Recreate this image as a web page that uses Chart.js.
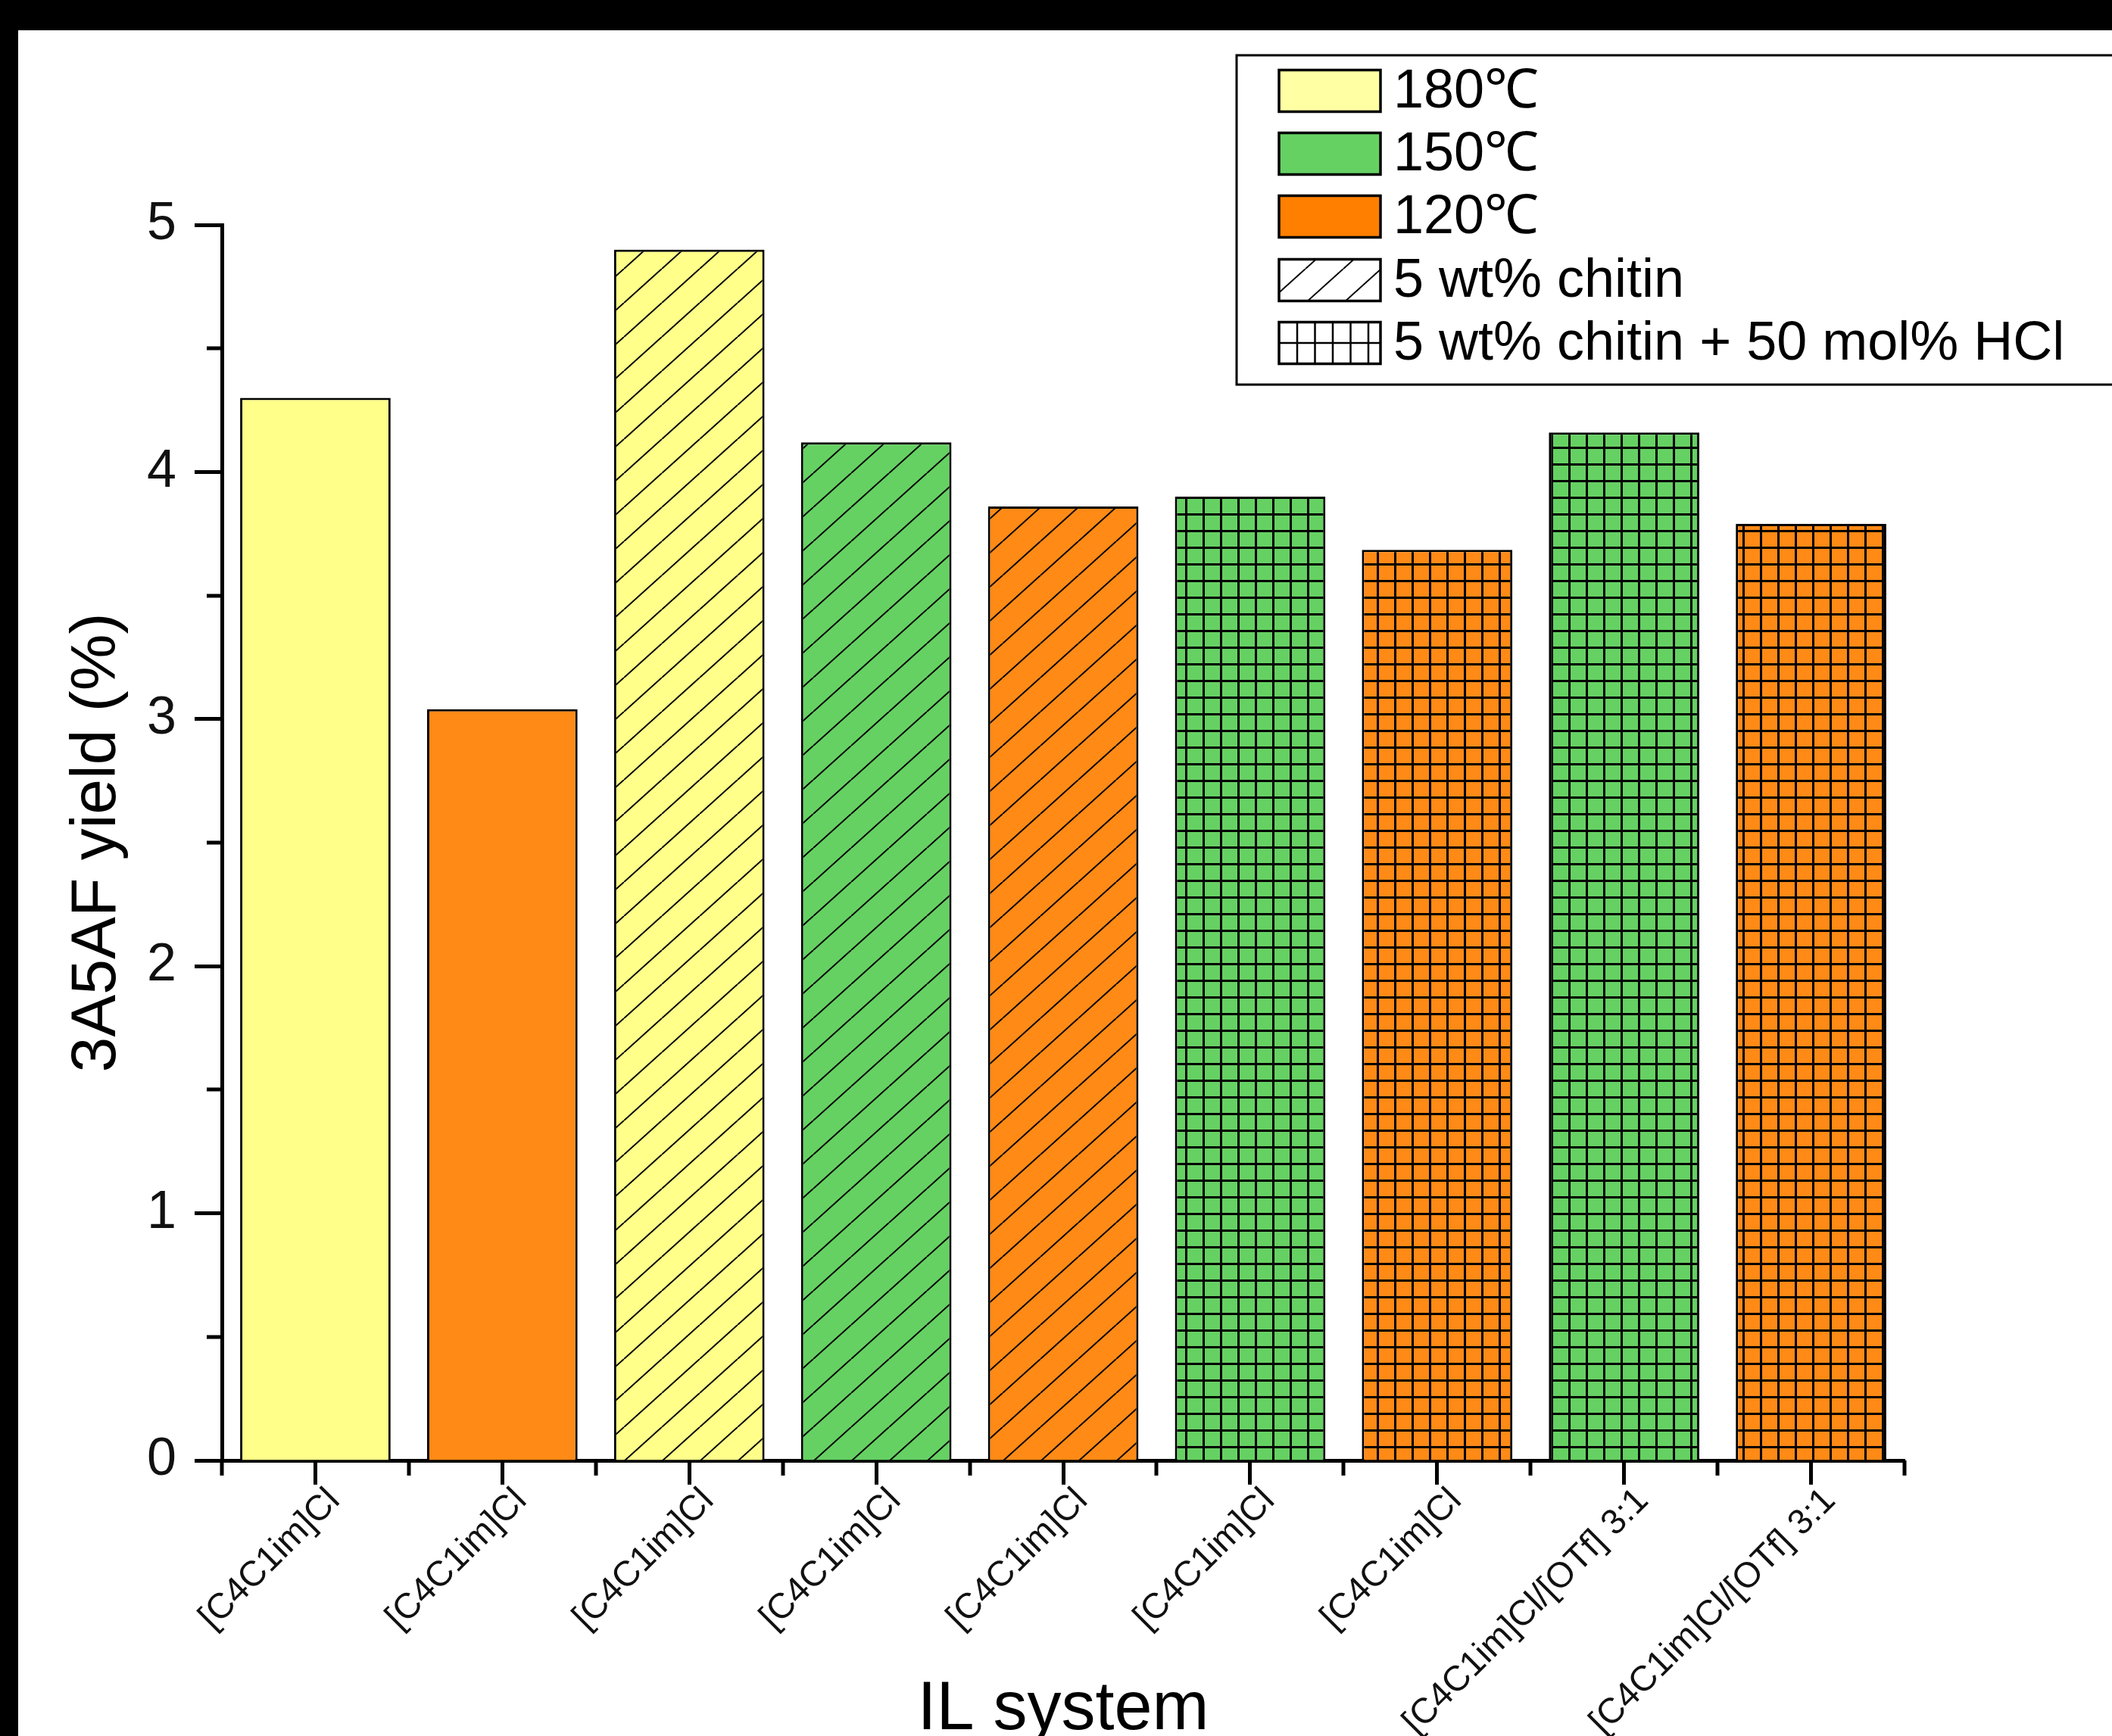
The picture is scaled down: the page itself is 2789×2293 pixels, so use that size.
<!DOCTYPE html>
<html lang="en">
<head>
    <meta charset="UTF-8">
    <title>3A5AF yield by IL system</title>
    <script src="https://cdn.jsdelivr.net/npm/chart.js"></script>
    <style>
        html, body { margin: 0; padding: 0; background: #000; overflow: hidden; }
        .frame {
            position: absolute;
            left: 24px;
            top: 40px;
            width: 2765px;
            height: 2253px;
            background: #fff;
        }
        canvas { display: block; }
    </style>
</head>
<body>
    <div class="frame">
        <canvas id="yieldChart" width="2765" height="2253"></canvas>
    </div>

    <script>
        // data
        const categories = [
            '[C4C1im]Cl', '[C4C1im]Cl', '[C4C1im]Cl', '[C4C1im]Cl', '[C4C1im]Cl',
            '[C4C1im]Cl', '[C4C1im]Cl', '[C4C1im]Cl/[OTf] 3:1', '[C4C1im]Cl/[OTf] 3:1'
        ];
        const yieldValues = [4.30, 3.04, 4.90, 4.12, 3.86, 3.90, 3.685, 4.16, 3.79];
        const temperatures = ['180', '120', '180', '150', '120', '150', '120', '150', '120'];
        const treatments = ['plain', 'plain', 'chitin', 'chitin', 'chitin', 'chitinHCl', 'chitinHCl', 'chitinHCl', 'chitinHCl'];
        const yTicks = [0, 1, 2, 3, 4, 5];
        const legendLabels = ['180\u2103', '150\u2103', '120\u2103', '5 wt% chitin', '5 wt% chitin + 50 mol% HCl'];

        const FONT = '"Liberation Sans", Arial, sans-serif';
        const barColors = { '180': '#FFFF8A', '150': '#66D163', '120': '#FF8A16' };
        const legendColors = { '180': '#FFFFA3', '150': '#66D163', '120': '#FF8000' };

        function hatchPattern(bg) {
            const c = document.createElement('canvas');
            c.width = 50; c.height = 45;
            const g = c.getContext('2d');
            g.fillStyle = bg;
            g.fillRect(0, 0, 50, 45);
            g.strokeStyle = '#000';
            g.lineWidth = 2;
            g.beginPath();
            [-50, 0, 50].forEach(dx => {
                g.moveTo(dx, 45);
                g.lineTo(dx + 50, 0);
            });
            g.stroke();
            return g.createPattern(c, 'repeat');
        }

        function gridPattern(bg) {
            const c = document.createElement('canvas');
            c.width = 23; c.height = 22;
            const g = c.getContext('2d');
            g.fillStyle = bg;
            g.fillRect(0, 0, 23, 22);
            g.fillStyle = '#000';
            g.fillRect(0, 0, 3, 22);
            g.fillRect(0, 0, 23, 3);
            return g.createPattern(c, 'repeat');
        }

        function barFill(i) {
            const col = barColors[temperatures[i]];
            if (treatments[i] === 'chitin') return hatchPattern(col);
            if (treatments[i] === 'chitinHCl') return gridPattern(col);
            return col;
        }

        // minor ticks + legend box
        const decorations = {
            id: 'decorations',
            afterDraw(chart) {
                const { ctx, chartArea, scales: { x, y } } = chart;
                ctx.save();
                ctx.strokeStyle = '#000';
                ctx.lineWidth = 5;
                ctx.beginPath();
                for (let v = 0.5; v < 5; v += 1) {
                    const py = Math.round(y.getPixelForValue(v));
                    ctx.moveTo(chartArea.left - 20, py);
                    ctx.lineTo(chartArea.left, py);
                }
                for (let i = 0; i <= categories.length; i++) {
                    const px = Math.round(x.getPixelForValue(i - 0.5));
                    ctx.moveTo(px, chartArea.bottom);
                    ctx.lineTo(px, chartArea.bottom + 20);
                }
                ctx.stroke();

                // legend
                const lx = 1609, ly = 33, lh = 435;
                ctx.fillStyle = '#fff';
                ctx.fillRect(lx, ly, 1200, lh);
                ctx.lineWidth = 3;
                ctx.strokeRect(lx, ly, 1200, lh);

                const sx = 1665, sw = 134, sh = 55;
                const rows = [80, 163, 246, 330, 413];
                const fills = [
                    legendColors['180'], legendColors['150'], legendColors['120'],
                    hatchPattern('#fff'), null
                ];
                ctx.font = '72px ' + FONT;
                ctx.textBaseline = 'middle';
                rows.forEach((cy, i) => {
                    const top = cy - sh / 2;
                    if (fills[i]) {
                        ctx.fillStyle = fills[i];
                        ctx.fillRect(sx, top, sw, sh);
                    } else {
                        ctx.fillStyle = '#fff';
                        ctx.fillRect(sx, top, sw, sh);
                        ctx.lineWidth = 2.5;
                        ctx.beginPath();
                        for (let vx = sx + 24; vx < sx + sw; vx += 23.5) {
                            ctx.moveTo(vx, top);
                            ctx.lineTo(vx, top + sh);
                        }
                        ctx.moveTo(sx, cy);
                        ctx.lineTo(sx + sw, cy);
                        ctx.stroke();
                    }
                    ctx.lineWidth = 3.5;
                    ctx.strokeRect(sx, top, sw, sh);
                    ctx.fillStyle = '#000';
                    ctx.fillText(legendLabels[i], 1816, cy + 2);
                });
                ctx.restore();
            }
        };

        new Chart(document.getElementById('yieldChart'), {
            type: 'bar',
            data: {
                labels: categories,
                datasets: [{
                    data: yieldValues,
                    backgroundColor: yieldValues.map((_, i) => barFill(i)),
                    borderColor: '#000',
                    borderWidth: 3,
                    barPercentage: 0.805,
                    categoryPercentage: 1
                }]
            },
            options: {
                responsive: false,
                devicePixelRatio: 1,
                animation: false,
                layout: { padding: { top: 257, right: 274, bottom: 0, left: 0 } },
                plugins: {
                    legend: { display: false },
                    tooltip: { enabled: false }
                },
                scales: {
                    x: {
                        offset: true,
                        grid: {
                            offset: false,
                            drawOnChartArea: false,
                            tickLength: 32,
                            tickWidth: 5,
                            tickColor: '#000'
                        },
                        border: { display: true, color: '#000', width: 5 },
                        ticks: {
                            autoSkip: false,
                            maxRotation: 45,
                            minRotation: 45,
                            padding: -6,
                            labelOffset: 25,
                            color: '#111',
                            font: { family: FONT, size: 47 }
                        },
                        title: {
                            display: true,
                            text: 'IL system',
                            color: '#000',
                            font: { family: FONT, size: 90, lineHeight: 0.75 },
                            padding: { top: 0, bottom: 0 }
                        },
                        afterFit(scale) { scale.height = 364; }
                    },
                    y: {
                        min: 0,
                        max: 5,
                        afterBuildTicks(scale) { scale.ticks = yTicks.map(v => ({ value: v })); },
                        grid: {
                            drawOnChartArea: false,
                            tickLength: 36,
                            tickWidth: 5,
                            tickColor: '#000'
                        },
                        border: { display: true, color: '#000', width: 5 },
                        ticks: {
                            padding: 24,
                            color: '#111',
                            font: { family: FONT, size: 70 }
                        },
                        title: {
                            display: true,
                            text: '3A5AF yield (%)',
                            color: '#000',
                            font: { family: FONT, size: 84 },
                            padding: { top: 54, bottom: 0 }
                        },
                        afterFit(scale) { scale.width = 269; }
                    }
                }
            },
            plugins: [decorations]
        });
    </script>
</body>
</html>
